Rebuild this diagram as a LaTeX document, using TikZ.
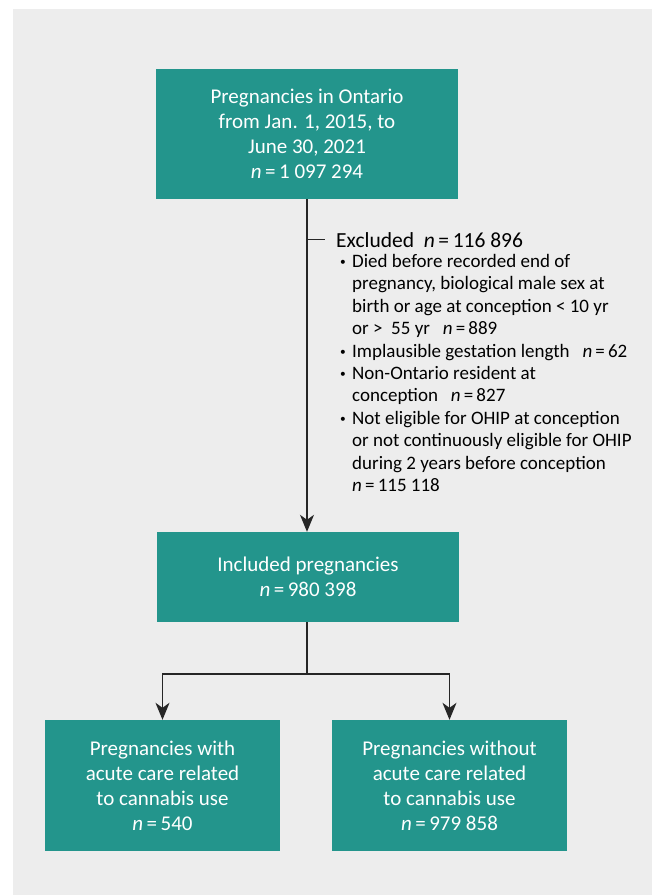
\documentclass[tikz,border=0pt]{standalone}
\usepackage{fontspec}
\setmainfont{Carlito}
\usetikzlibrary{arrows.meta}

\definecolor{boxteal}{HTML}{23958C}
\definecolor{panelgray}{HTML}{EDEDED}

\tikzset{
  flowbox/.style={rectangle, fill=boxteal, text=white, align=center,
    font=\fontsize{21}{25}\selectfont, inner sep=0pt},
  flowline/.style={line width=1.3pt, black!85},
  flowarrow/.style={flowline, -{Stealth[length=17pt, width=14pt, inset=5pt]}}
}
\newcommand{\nval}[1]{\textit{n}\,=\,#1}
\newcommand{\bitem}{\makebox[12pt][l]{\raisebox{1.5pt}{\scalebox{0.6}{\textbullet}}}}
\newcommand{\bcont}{\hspace*{12pt}}

\begin{document}
\begin{tikzpicture}[x=1pt, y=-1pt]
  \useasboundingbox (0,0) rectangle (652,895);
  \fill[white] (0,0) rectangle (652,895);
  \fill[panelgray] (13,9) rectangle (652,895);

  % boxes
  \node (start) [flowbox, minimum width=302pt, minimum height=130pt] at (307,134)
    {Pregnancies in Ontario\\from Jan. 1, 2015, to\\June 30, 2021\\\nval{1 097 294}};
  \node (incl) [flowbox, minimum width=302pt, minimum height=90pt] at (308,577)
    {Included pregnancies\\\nval{980 398}};
  \node (with) [flowbox, minimum width=235pt, minimum height=131pt] at (162.5,785.5)
    {Pregnancies with\\acute care related\\to cannabis use\\\nval{540}};
  \node (without) [flowbox, minimum width=235pt, minimum height=131pt] at (449.5,785.5)
    {Pregnancies without\\acute care related\\to cannabis use\\\nval{979 858}};

  % exclusions
  \node (excl) [anchor=base west, inner sep=0pt, font=\fontsize{21.5}{24}\selectfont] at (336,247)
    {Excluded\ \ \nval{116 896}};
  \node (excllist) [anchor=north west, inner sep=0pt, align=left,
    font=\fontsize{19}{22.4}\selectfont] at (340,254)
    {\bitem Died before recorded end of\\
     \bcont pregnancy, biological male sex at\\
     \bcont birth or age at conception < 10 yr\\
     \bcont or >\ \ 55 yr\ \ \ \nval{889}\\
     \bitem Implausible gestation length\ \ \ \nval{62}\\
     \bitem Non-Ontario resident at\\
     \bcont conception\ \ \ \nval{827}\\
     \bitem Not eligible for OHIP at conception\\
     \bcont or not continuously eligible for OHIP\\
     \bcont during 2 years before conception\\
     \bcont \nval{115 118}};

  \coordinate (split) at (307,674);

  \draw[flowarrow] (start.south) -- (start.south |- incl.north);
  \draw[flowline] (start.south |- excl.west) -- ([xshift=-11pt]excl.west);
  \draw[flowline] (incl.south -| split) -- (split);
  \draw[flowarrow] (split) -| (with.north);
  \draw[flowarrow] (split) -| (without.north);
\end{tikzpicture}
\end{document}
